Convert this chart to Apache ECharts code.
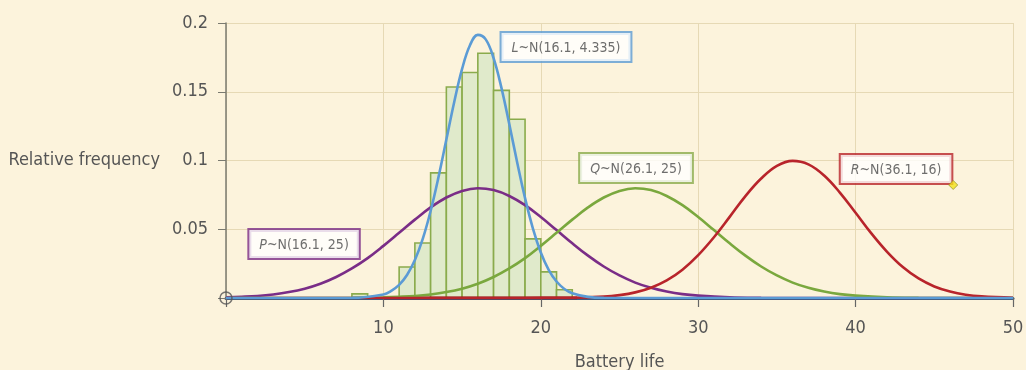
<!DOCTYPE html>
<html>
<head>
<meta charset="utf-8">
<script src="https://cdn.jsdelivr.net/npm/echarts@6/dist/echarts.min.js"></script>
<style>
  html, body { margin: 0; padding: 0; background: #fcf3dc; }
  #chart { width: 1026px; height: 370px; }
</style>
</head>
<body>
<div id="chart"></div>
<script>
// histogram: bins of width 1, left edge + relative frequency
const binStarts = [8, 11, 12, 13, 14, 15, 16, 17, 18, 19, 20, 21];
const binFreqs = [0.003, 0.0225, 0.040, 0.091, 0.1535, 0.164, 0.178, 0.151, 0.130, 0.043, 0.019, 0.006];

// curves [x, y]
const curveL = [[0, 0], [6, 0], [8, 0.0001], [10, 0.0026], [10.5, 0.0052], [11, 0.0095], [11.5, 0.0167], [12, 0.0276],
  [12.5, 0.043], [13, 0.0633], [13.5, 0.0879], [14, 0.1152], [14.5, 0.1426], [15, 0.1666], [15.5, 0.1838],
  [16, 0.1914], [16.5, 0.1881], [17, 0.1745], [17.5, 0.1528], [18, 0.1263], [18.5, 0.0986],
  [19, 0.0726], [19.5, 0.0505], [20, 0.0331], [20.5, 0.0205], [21, 0.012], [21.5, 0.0066], [22, 0.0035],
  [23, 0.0008], [24, 0.0001], [26, 0], [50, 0]];
const curveP = [[0, 0.0005], [1, 0.0009], [2, 0.0015], [3, 0.0026], [4, 0.0043], [5, 0.0068], [6, 0.0104],
  [7, 0.0153], [8, 0.0215], [9, 0.0290], [10, 0.0379], [11, 0.0474], [12, 0.057], [13, 0.0659], [14, 0.0731],
  [15, 0.0779], [16, 0.0798], [17, 0.0785], [18, 0.0742], [19, 0.0675], [20, 0.0589], [21, 0.0494],
  [22, 0.0398], [23, 0.0308], [24, 0.0229], [25, 0.0164], [26, 0.0112], [27, 0.0074], [28, 0.0047],
  [29, 0.0028], [30, 0.0017], [32, 0.0005], [34, 0.0001], [36, 0], [50, 0]];
const curveQ = [[0, 0], [6, 0], [8, 0.0001], [10, 0.0005], [11, 0.0009], [12, 0.0015], [13, 0.0026], [14, 0.0043],
  [15, 0.0068], [16, 0.0104], [17, 0.0153], [18, 0.0215], [19, 0.0290], [20, 0.0379], [21, 0.0474], [22, 0.057],
  [23, 0.0659], [24, 0.0731], [25, 0.0779], [26, 0.0798], [27, 0.0785], [28, 0.0742], [29, 0.0675], [30, 0.0589],
  [31, 0.0494], [32, 0.0398], [33, 0.0308], [34, 0.0229], [35, 0.0164], [36, 0.0112], [37, 0.0074], [38, 0.0047],
  [39, 0.0028], [40, 0.0017], [42, 0.0005], [44, 0.0001], [46, 0], [50, 0]];
const curveR = [[0, 0], [18, 0], [20, 0.0001], [22, 0.0002], [24, 0.001], [25, 0.0021], [26, 0.0041], [27, 0.0075],
  [28, 0.0128], [29, 0.0206], [30, 0.0312], [31, 0.0442], [32, 0.059], [33, 0.0741], [34, 0.0869], [35, 0.0961],
  [36, 0.0997], [37, 0.0972], [38, 0.0891], [39, 0.0767], [40, 0.062], [41, 0.0470], [42, 0.0336], [43, 0.0225],
  [44, 0.0142], [45, 0.0084], [46, 0.0047], [47, 0.0024], [48, 0.0012], [50, 0.0002]];

// dark red stroke along the axis under the histogram
const baseSpan = [[10, 0], [22.3, 0]];
const origin = [[0, 0]];
const marker = [[46.2, 0.0822]];

// labels for the curves: [x, y] anchor, name, parameters
const tags = [
  { at: [21.6, 0.1825], letter: 'L', text: '~N(16.1, 4.335)', color: '#5b9bd5' },
  { at: [4.96, 0.0393], letter: 'P', text: '~N(16.1, 25)', color: '#7a2d87' },
  { at: [26.05, 0.0945], letter: 'Q', text: '~N(26.1, 25)', color: '#8aab4c' },
  { at: [42.57, 0.0938], letter: 'R', text: '~N(36.1, 16)', color: '#b8242b' }
];

const FONT = "'Liberation Sans Narrow', 'DejaVu Sans Condensed', 'Roboto', sans-serif";
const TXT = '#555555';

const chart = echarts.init(document.getElementById('chart'));

const curve = (name, data, color) => ({
  name, type: 'line', data, smooth: 0.4, symbol: 'none', z: 5,
  lineStyle: { color, width: 2.6 }
});

chart.setOption({
  backgroundColor: '#fcf3dc',
  animation: false,
  grid: { left: 226, right: 13, top: 23, bottom: 72, outerBoundsMode: 'none' },
  xAxis: {
    type: 'value', min: 0, max: 50, interval: 10,
    name: 'Battery life', nameLocation: 'middle', nameGap: 55,
    nameTextStyle: { color: TXT, fontSize: 18, fontFamily: FONT },
    axisLine: { lineStyle: { color: '#3d5a80', width: 3 } },
    axisTick: { show: true, length: 9, lineStyle: { color: '#666', width: 1.2 } },
    axisLabel: { color: TXT, fontSize: 18, fontFamily: FONT, margin: 21,
      formatter: v => (v === 0 ? '' : v) },
    splitLine: { show: true, lineStyle: { color: '#e6d9b5', width: 1 } }
  },
  yAxis: {
    type: 'value', min: 0, max: 0.2, interval: 0.05,
    name: 'Relative frequency', nameLocation: 'middle', nameRotate: 0, nameGap: 66,
    nameTextStyle: { color: TXT, fontSize: 18, fontFamily: FONT, align: 'right' },
    axisLine: { show: true, lineStyle: { color: '#7a7a70', width: 1.5 } },
    axisTick: { show: true, length: 8, lineStyle: { color: '#7a7a70' } },
    axisLabel: { color: TXT, fontSize: 18, fontFamily: FONT, margin: 18,
      formatter: v => (v === 0 ? '' : String(+v.toFixed(2))) },
    splitLine: { show: true, lineStyle: { color: '#e6d9b5', width: 1 } }
  },
  series: [
    {
      name: 'hist', type: 'custom', z: 2,
      data: binStarts.map((s, i) => [s, s + 1, binFreqs[i]]),
      renderItem: (params, api) => {
        const p0 = api.coord([api.value(0), 0]);
        const p1 = api.coord([api.value(1), api.value(2)]);
        return {
          type: 'rect',
          shape: { x: p0[0], y: p1[1], width: p1[0] - p0[0], height: p0[1] - p1[1] },
          style: { fill: '#e0eacb', stroke: '#8aab4c', lineWidth: 1.6 }
        };
      }
    },
    curve('P', curveP, '#7a2d87'),
    curve('Q', curveQ, '#7aa83e'),
    curve('R', curveR, '#b8242b'),
    curve('L', curveL, '#5b9bd5'),
    {
      name: 'base', type: 'line', data: baseSpan, symbol: 'none', z: 4,
      lineStyle: { color: '#8b1a1a', width: 3 }
    },
    {
      name: 'origin', type: 'scatter', data: origin, symbol: 'circle', symbolSize: 12, z: 6,
      itemStyle: { color: 'rgba(0,0,0,0)', borderColor: '#555', borderWidth: 1.5 }
    },
    {
      name: 'tags', type: 'scatter', symbolSize: 0, z: 8,
      label: {
        show: true, position: 'inside',
        formatter: p => '{i|' + tags[p.dataIndex].letter + '}' + tags[p.dataIndex].text,
        backgroundColor: '#ffffff', borderWidth: 2, padding: [8, 10, 6, 10],
        color: '#4a4a4a', fontSize: 14, fontFamily: FONT,
        rich: { i: { fontStyle: 'italic', fontSize: 14, fontFamily: FONT, color: '#4a4a4a' } }
      },
      itemStyle: { color: 'transparent' },
      data: tags.map(t => ({ value: t.at, label: { borderColor: t.color } }))
    },
    {
      name: 'marker', type: 'scatter', data: marker, symbol: 'diamond', symbolSize: 9, z: 9,
      itemStyle: { color: '#f2e21a', borderColor: '#9a9a30', borderWidth: 1 }
    }
  ]
});
</script>
</body>
</html>
